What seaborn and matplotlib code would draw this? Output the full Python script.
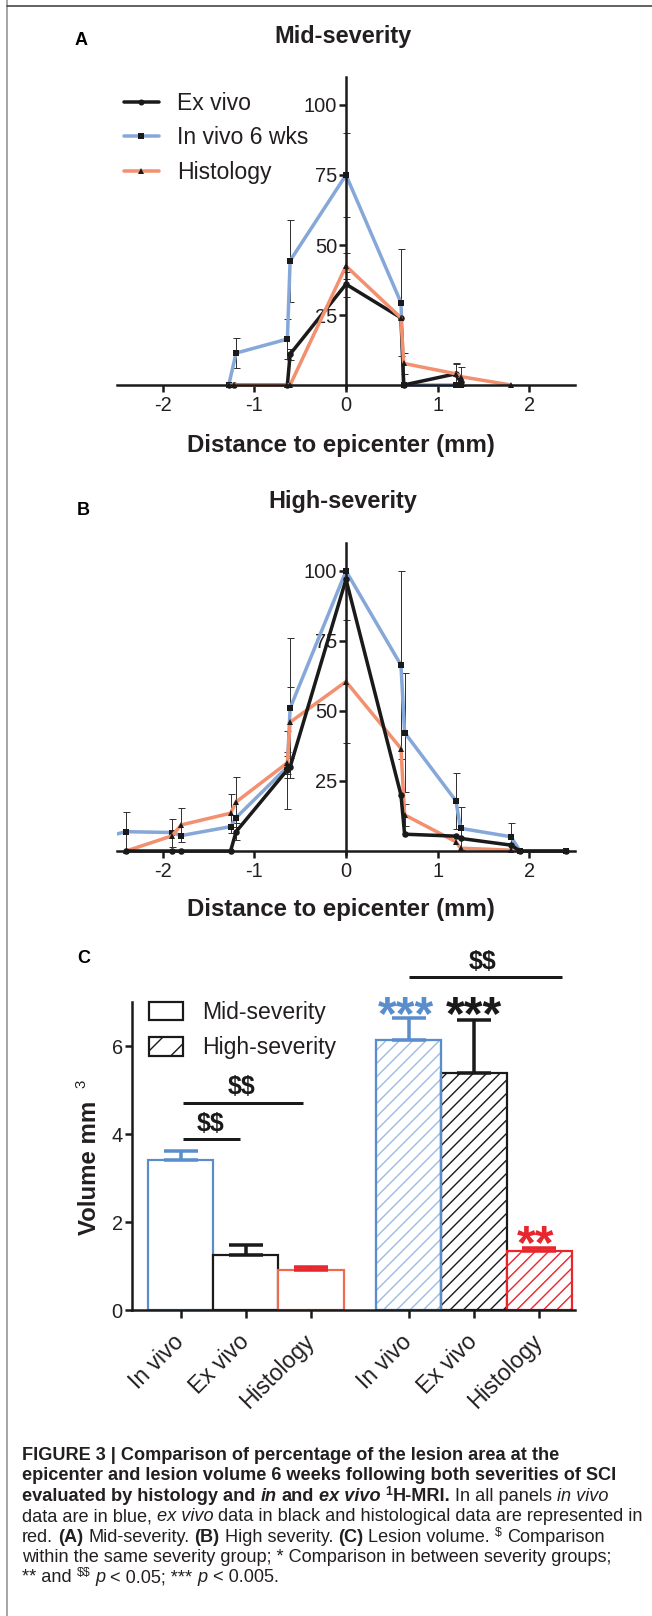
import matplotlib
matplotlib.use("Agg")
import matplotlib.pyplot as plt
from matplotlib.lines import Line2D
from matplotlib.patches import Patch
import seaborn as sns
import pandas as pd
import numpy as np

W, H, DPI = 652, 1616, 80
PT = 72.0 / DPI   # points per pixel


def fx(px):
    return px / W


def fy(py):
    return 1.0 - py / H


sns.set_theme(style="ticks")
plt.rcParams["font.family"] = ["Liberation Sans", "DejaVu Sans"]
plt.rcParams["axes.unicode_minus"] = False
plt.rcParams["hatch.linewidth"] = 1.4 * PT

C_BLUE_LINE = "#86a8d9"
C_BLACK = "#1a1a1a"
C_ORANGE_LINE = "#f2906f"
C_BLUE_BAR = "#5a8dcc"
C_BLUE_HATCH = "#9dbbe2"
C_ORANGE_BAR = "#ee6b4f"
C_RED = "#e8262d"
C_TEXT = "#231f20"

# ---- panel A: mid-severity, % lesion area vs distance
a_invivo_x = [-1.28, -1.2, -0.64, -0.61, 0.0, 0.6, 0.63, 1.2, 1.25]
a_invivo_y = [0, 11.4, 16.4, 44.4, 75, 29.4, 0, 0, 0]
a_invivo_err = [0, 5.4, 7, 14.6, 15, 19, 0, 0, 0]
a_exvivo_x = [-1.28, -1.22, -0.64, -0.61, 0.0, 0.6, 0.63, 1.2, 1.25]
a_exvivo_y = [0, 0, 0, 11, 36, 24, 0, 4, 1]
a_exvivo_err = [0, 0, 0, 2, 4.5, 0, 0, 4, 0]
a_histo_x = [-1.28, -1.22, -0.64, -0.61, 0.0, 0.6, 0.63, 1.2, 1.25, 1.8]
a_histo_y = [0, 0, 0, 0, 42.5, 24, 7.7, 4, 3, 0]
a_histo_err = [0, 0, 0, 0, 4.6, 0, 3.7, 3.5, 3.4, 0]

# ---- panel B: high-severity
b_invivo_x = [-2.7, -2.4, -1.9, -1.8, -1.26, -1.2, -0.64, -0.61, 0.0, 0.6, 0.64, 1.2, 1.25, 1.8, 1.9, 2.4]
b_invivo_y = [4.5, 6.9, 6.6, 5.5, 8.7, 11.9, 30, 51, 100, 66.4, 42.3, 17.9, 8.1, 5.1, 0, 0]
b_invivo_err = [0, 7, 5, 0, 0, 0, 4, 25, 0, 33.6, 21.3, 10, 7.7, 5, 0, 0]
b_exvivo_x = [-2.4, -1.9, -1.8, -1.26, -1.2, -0.64, -0.61, 0.0, 0.6, 0.64, 1.2, 1.25, 1.8, 1.9, 2.4]
b_exvivo_y = [0, 0, 0, 0, 6.9, 29, 30, 97, 20, 6, 5.3, 4.5, 2.1, 0, 0]
b_exvivo_err = [0, 0, 0, 0, 3, 14, 0, 0, 0, 0, 0, 0, 0, 0, 0]
b_histo_x = [-2.4, -1.9, -1.8, -1.26, -1.2, -0.64, -0.61, 0.0, 0.6, 0.64, 1.2, 1.25, 1.8, 1.9, 2.4]
b_histo_y = [0, 5.4, 9.3, 13.5, 17.5, 31.5, 46, 60.5, 36.6, 12.9, 3.3, 1, 0.3, 0, 0]
b_histo_err = [0, 0, 6, 7, 9, 4, 12.7, 22, 0, 4, 0, 0, 0, 0, 0]

# ---- panel C: lesion volume (mm3)
vol_labels = ["In vivo", "Ex vivo", "Histology"]
vol_mid = [3.40, 1.24, 0.90]
vol_mid_err = [0.22, 0.24, 0.07]
vol_high = [6.14, 5.38, 1.33]
vol_high_err = [0.49, 1.22, 0.08]

palette = {"In vivo 6 wks": C_BLUE_LINE, "Ex vivo": C_BLACK, "Histology": C_ORANGE_LINE}
markers = {"In vivo 6 wks": "s", "Ex vivo": "o", "Histology": "^"}


def long_df(parts):
    rows = []
    for name, xs, ys, es in parts:
        for x, y, e in zip(xs, ys, es):
            rows.append({"distance": x, "area": y, "err": e, "method": name})
    return pd.DataFrame(rows)


dfA = long_df([("In vivo 6 wks", a_invivo_x, a_invivo_y, a_invivo_err),
               ("Ex vivo", a_exvivo_x, a_exvivo_y, a_exvivo_err),
               ("Histology", a_histo_x, a_histo_y, a_histo_err)])
dfB = long_df([("In vivo 6 wks", b_invivo_x, b_invivo_y, b_invivo_err),
               ("Ex vivo", b_exvivo_x, b_exvivo_y, b_exvivo_err),
               ("Histology", b_histo_x, b_histo_y, b_histo_err)])

fig = plt.figure(figsize=(W / DPI, H / DPI), dpi=DPI)
fig.patch.set_facecolor("white")

YLO = -1.0
YPX = 2.8  # px per % unit


def profile_panel(ax, df, order):
    sns.lineplot(data=df, x="distance", y="area", hue="method", style="method",
                 hue_order=order, style_order=order, palette=palette, markers=markers,
                 dashes=False, estimator=None, legend=False, ax=ax,
                 linewidth=3.5 * PT, markersize=6.5 * PT, markerfacecolor="k",
                 markeredgecolor="k", markeredgewidth=0)
    for name in order:
        sub = df[(df.method == name) & (df.err > 0)]
        ax.errorbar(sub.distance, sub.area, yerr=sub.err, fmt="none", ecolor="#333333",
                    elinewidth=1.0 * PT, capsize=3.5 * PT, capthick=1.0 * PT, zorder=1.5)
    ax.set_xlim(-2.5, 2.5)
    ax.set_ylim(YLO, 110)
    sns.despine(ax=ax)
    ax.spines["left"].set_position(("data", 0))
    ax.spines["bottom"].set_position(("data", 0))
    for s in ("left", "bottom"):
        ax.spines[s].set_linewidth(2.5 * PT)
        ax.spines[s].set_color(C_BLACK)
        ax.spines[s].set_zorder(4)
    ax.set_xticks([-2, -1, 0, 1, 2])
    ax.set_yticks([25, 50, 75, 100])
    ax.tick_params(axis="both", direction="out", length=7 * PT, width=2.5 * PT,
                   labelsize=20 * PT, color=C_BLACK, labelcolor=C_TEXT)
    ax.tick_params(axis="x", pad=4 * PT)
    ax.tick_params(axis="y", pad=2 * PT)
    ax.set_xlabel("")
    ax.set_ylabel("")
    ax.set_facecolor("none")


def profile_axes(axis_px):
    top = axis_px - 110 * YPX
    bot = axis_px - YLO * YPX
    return fig.add_axes([fx(117), fy(bot), (575 - 117) / W, (bot - top) / H])


axA = profile_axes(385)
profile_panel(axA, dfA, ["In vivo 6 wks", "Ex vivo", "Histology"])
axB = profile_axes(851)
profile_panel(axB, dfB, ["In vivo 6 wks", "Histology", "Ex vivo"])

leg_order = ["Ex vivo", "In vivo 6 wks", "Histology"]
handles = [Line2D([], [], color=palette[m], lw=3.5 * PT, marker=markers[m], markersize=6 * PT,
                  markerfacecolor="k", markeredgecolor="k", markeredgewidth=0) for m in leg_order]
axA.legend(handles, leg_order, loc="upper left", bbox_to_anchor=(fx(124), fy(92)),
           bbox_transform=fig.transFigure, frameon=False, fontsize=23 * PT,
           handlelength=1.5, handletextpad=0.8, labelspacing=0.5, borderpad=0,
           borderaxespad=0, labelcolor=C_TEXT)

for yb, title in ((43, "Mid-severity"), (508, "High-severity")):
    fig.text(fx(343), fy(yb), title, ha="center", va="baseline", fontsize=23.5 * PT,
             weight="bold", color=C_TEXT)
for yb in (452, 916):
    fig.text(fx(341), fy(yb), "Distance to epicenter (mm)", ha="center", va="baseline",
             fontsize=24 * PT, weight="bold", color=C_TEXT)
for lbl, xp, yb in (("A", 75, 45), ("B", 77, 515), ("C", 77, 963)):
    fig.text(fx(xp), fy(yb), lbl, ha="left", va="baseline", fontsize=18 * PT,
             weight="bold", color="black")

# ---- panel C
axC = fig.add_axes([fx(131.7), fy(1310), (575 - 131.7) / W, (1310 - 1002) / H])
pos = [0, 1, 2, 3.5, 4.5, 5.5]
vals = vol_mid + vol_high
errs = vol_mid_err + vol_high_err
edge = [C_BLUE_BAR, C_BLACK, C_ORANGE_BAR, C_BLUE_HATCH, C_BLACK, C_RED]
err_col = [C_BLUE_BAR, C_BLACK, C_RED, C_BLUE_BAR, C_BLACK, C_RED]
hatches = [None, None, None, "//", "//", "//"]
for p, v, ec, h in zip(pos, vals, edge, hatches):
    axC.bar(p, v, width=1.0, color="white", edgecolor=ec, linewidth=2.2 * PT, hatch=h, zorder=2)
axC.bar(pos[3], vals[3], width=1.0, fill=False, edgecolor=C_BLUE_BAR, linewidth=2.2 * PT, zorder=2.5)
for p, v, e, c in zip(pos, vals, errs, err_col):
    axC.errorbar([p], [v], yerr=[[0], [e]], fmt="none", ecolor=c, elinewidth=3.5 * PT,
                 capsize=17 * PT, capthick=3.5 * PT, zorder=3)

axC.set_xlim(-0.75, 6.05)
axC.set_ylim(0, 7)
sns.despine(ax=axC)
for s in ("left", "bottom"):
    axC.spines[s].set_linewidth(2.5 * PT)
    axC.spines[s].set_color(C_BLACK)
axC.set_yticks([0, 2, 4, 6])
axC.set_xticks(pos)
axC.set_xticklabels(vol_labels * 2, rotation=45, ha="right", va="center", rotation_mode="anchor")
axC.tick_params(axis="y", direction="out", length=7 * PT, width=2.5 * PT, labelsize=20 * PT,
                color=C_BLACK, labelcolor=C_TEXT, pad=2 * PT)
axC.tick_params(axis="x", direction="out", length=8 * PT, width=2.5 * PT, labelsize=23 * PT,
                color=C_BLACK, labelcolor=C_TEXT, pad=20 * PT)
axC.set_facecolor("none")

# significance marks
for x0, x1, yy in ((0.04, 0.91, 3.89), (0.04, 1.88, 4.71), (3.51, 5.85, 7.56)):
    axC.plot([x0, x1], [yy, yy], color=C_BLACK, lw=3 * PT, solid_capstyle="butt", clip_on=False)
for xc, yb in ((0.46, 4.07), (0.94, 4.91), (4.63, 7.75)):
    axC.text(xc, yb, "$$", ha="center", va="baseline", fontsize=25 * PT, weight="bold",
             color=C_BLACK, parse_math=False, clip_on=False)
for xc, yb, s, c in ((3.46, 6.39, "***", C_BLUE_BAR), (4.5, 6.39, "***", C_BLACK),
                     (5.45, 1.18, "**", C_RED)):
    axC.text(xc, yb, s, ha="center", va="baseline", fontsize=48 * PT, weight="bold",
             color=c, clip_on=False)

leg_patches = [Patch(facecolor="white", edgecolor=C_BLACK, linewidth=2.2 * PT),
               Patch(facecolor="white", edgecolor=C_BLACK, linewidth=2.2 * PT, hatch="/")]
axC.legend(leg_patches, ["Mid-severity", "High-severity"], loc="upper left",
           bbox_to_anchor=(fx(149), fy(1001)), bbox_transform=fig.transFigure, frameon=False,
           fontsize=23 * PT, handlelength=1.48, handleheight=0.85, handletextpad=0.83,
           labelspacing=0.54, borderpad=0, borderaxespad=0, labelcolor=C_TEXT)

fig.text(fx(90), fy(1168), "Volume mm", rotation=90, ha="center", va="center",
         fontsize=24 * PT, weight="bold", color=C_TEXT)
fig.text(fx(81), fy(1084), "3", rotation=90, ha="center", va="center",
         fontsize=15 * PT, color=C_TEXT)

# ---- caption
renderer = fig.canvas.get_renderer()
STY = {"b": dict(weight="bold"), "n": {}, "i": dict(style="italic"),
       "bi": dict(weight="bold", style="italic"), "sup": {}, "bsup": dict(weight="bold")}
CAP = 18.1


def text_w(s, props, size):
    t = fig.text(0, 0, s, fontsize=size, parse_math=False, **props)
    w = t.get_window_extent(renderer).width
    t.remove()
    return w


def caption_line(y, parts, x0=22):
    x = x0
    for s, kind in parts:
        props = STY[kind]
        fs = CAP * PT * (0.68 if "sup" in kind else 1.0)
        if s.startswith(" "):
            x += text_w("n n", props, fs) - text_w("nn", props, fs)
            s = s.lstrip(" ")
        if not s:
            continue
        yy = y - 6 if "sup" in kind else y
        t = fig.text(fx(x), fy(yy), s, fontsize=fs, ha="left", va="baseline",
                     parse_math=False, color=C_TEXT, **props)
        x += t.get_window_extent(renderer).width


caption = [
    [("FIGURE 3 | Comparison of percentage of the lesion area at the", "b")],
    [("epicenter and lesion volume 6 weeks following both severities of SCI", "b")],
    [("evaluated by histology and", "b"), (" in", "bi"), (" and", "b"), (" ex vivo", "bi"),
     (" ", "b"), ("1", "bsup"), ("H-MRI.", "b"), (" In all panels", "n"), (" in vivo", "i")],
    [("data are in blue,", "n"), (" ex vivo", "i"),
     (" data in black and histological data are represented in", "n")],
    [("red.", "n"), (" (A)", "b"), (" Mid-severity.", "n"), (" (B)", "b"), (" High severity.", "n"),
     (" (C)", "b"), (" Lesion volume.", "n"), (" ", "n"), ("$", "sup"), (" Comparison", "n")],
    [("within the same severity group; * Comparison in between severity groups;", "n")],
    [("** and", "n"), (" ", "n"), ("$$", "sup"), (" ", "n"), ("p", "i"), (" < 0.05; ***", "n"),
     (" ", "n"), ("p", "i"), (" < 0.005.", "n")],
]
for i, parts in enumerate(caption):
    caption_line(1460 + i * 20.4, parts)

# page frame
fig.add_artist(Line2D([fx(7), fx(7)], [fy(0), fy(1616)], color="#8a8a8a", lw=1.5 * PT))
fig.add_artist(Line2D([fx(7), fx(652)], [fy(6), fy(6)], color="#333333", lw=1.5 * PT))

fig.savefig("out.png", dpi=DPI)
